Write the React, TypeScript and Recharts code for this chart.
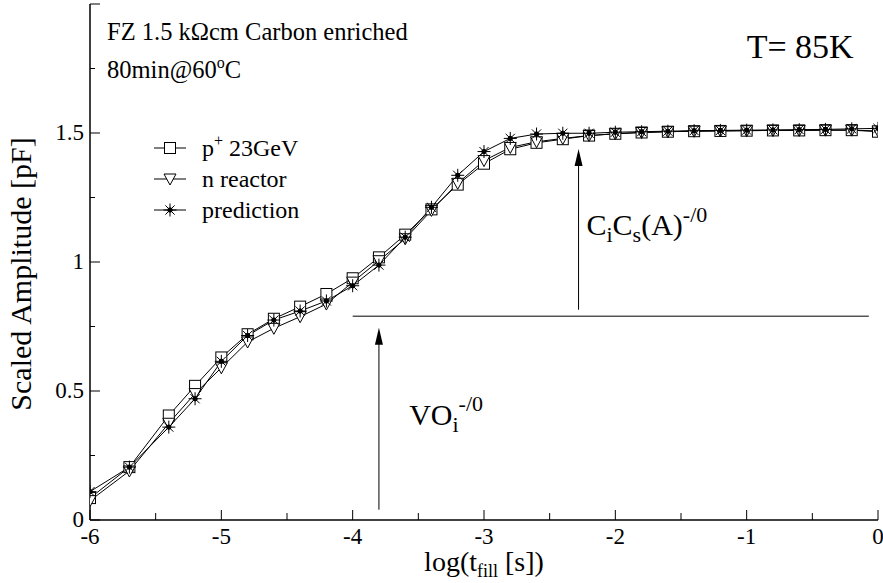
import React from 'react';
import { LineChart, Line, XAxis, YAxis, ReferenceLine, ReferenceDot, Legend } from 'recharts';

// log10 of filling time [s]
const logFill = [-6, -5.7, -5.4, -5.2, -5.0, -4.8, -4.6, -4.4, -4.2, -4.0, -3.8, -3.6, -3.4, -3.2, -3.0,
  -2.8, -2.6, -2.4, -2.2, -2.0, -1.8, -1.6, -1.4, -1.2, -1.0, -0.8, -0.6, -0.4, -0.2, 0];

// scaled amplitude [pF]
const proton23GeV = [0.085, 0.205, 0.405, 0.52, 0.63, 0.72, 0.78, 0.827, 0.876, 0.937, 1.018, 1.106, 1.204, 1.3, 1.381,
  1.437, 1.462, 1.476, 1.49, 1.497, 1.502, 1.505, 1.507, 1.508, 1.509, 1.51, 1.51, 1.511, 1.511, 1.505];
const nReactor = [0.075, 0.19, 0.375, 0.49, 0.59, 0.69, 0.743, 0.788, 0.837, 0.922, 1.005, 1.09, 1.2, 1.305, 1.393,
  1.444, 1.466, 1.479, 1.49, 1.497, 1.502, 1.505, 1.507, 1.508, 1.509, 1.51, 1.51, 1.511, 1.511, 1.508];
const prediction = [0.11, 0.205, 0.36, 0.47, 0.615, 0.715, 0.775, 0.81, 0.849, 0.908, 0.988, 1.096, 1.212, 1.336, 1.428,
  1.479, 1.496, 1.499, 1.499, 1.503, 1.505, 1.507, 1.509, 1.51, 1.511, 1.512, 1.513, 1.514, 1.516, 1.518];

const xTicks = [-6, -5.5, -5, -4.5, -4, -3.5, -3, -2.5, -2, -1.5, -1, -0.5, 0];
const yTicks = [0, 0.25, 0.5, 0.75, 1, 1.25, 1.5, 1.75, 2];
const xLabels = [-6, -5, -4, -3, -2, -1, 0];
const yLabels = [0, 0.5, 1, 1.5];

const FONT = '"Liberation Serif", "Times New Roman", serif';
const PLOT = { left: 90, right: 878, top: 4, bottom: 520 };

const rows = logFill.map((x, i) => ({ x, p: proton23GeV[i], n: nReactor[i], pred: prediction[i] }));

const Square = ({ cx, cy }: any) => (
  <rect x={cx - 5.5} y={cy - 5.5} width={11} height={11} fill="#fff" stroke="#000" strokeWidth={1} />
);
const TriDown = ({ cx, cy }: any) => (
  <path d={`M${cx - 6},${cy - 5} L${cx + 6},${cy - 5} L${cx},${cy + 6} Z`} fill="#fff" stroke="#000" strokeWidth={1} />
);
const Star = ({ cx, cy }: any) => {
  const r = 6.5, d = r * 0.7071;
  return (
    <g stroke="#000" strokeWidth={1}>
      <line x1={cx - r} y1={cy} x2={cx + r} y2={cy} />
      <line x1={cx} y1={cy - r} x2={cx} y2={cy + r} />
      <line x1={cx - d} y1={cy - d} x2={cx + d} y2={cy + d} />
      <line x1={cx - d} y1={cy + d} x2={cx + d} y2={cy - d} />
      <circle cx={cx} cy={cy} r={2.2} fill="#000" />
    </g>
  );
};

const BottomTick = ({ x, y, payload }: any) => {
  const major = xLabels.includes(payload.value);
  return (
    <g>
      <line x1={x} x2={x} y1={PLOT.bottom} y2={PLOT.bottom - (major ? 10 : 7)} stroke="#000" />
      {major && (
        <text x={x} y={y} dy="0.71em" textAnchor="middle" fontFamily={FONT} fontSize={23} fill="#000">
          {payload.value}
        </text>
      )}
    </g>
  );
};
const TopTick = ({ x, payload }: any) => {
  const major = xLabels.includes(payload.value);
  return <line x1={x} x2={x} y1={PLOT.top} y2={PLOT.top + (major ? 10 : 7)} stroke="#000" />;
};
const LeftTick = ({ x, y, payload }: any) => {
  const major = yLabels.includes(payload.value) || payload.value === 2;
  return (
    <g>
      <line x1={PLOT.left} x2={PLOT.left + (major ? 10 : 5)} y1={y} y2={y} stroke="#000" />
      {yLabels.includes(payload.value) && (
        <text x={x} y={y} dy="0.3em" textAnchor="end" fontFamily={FONT} fontSize={23} fill="#000">
          {payload.value}
        </text>
      )}
    </g>
  );
};
const RightTick = ({ y, payload }: any) => {
  const major = yLabels.includes(payload.value);
  return <line x1={PLOT.right} x2={PLOT.right - (major ? 10 : 5)} y1={y} y2={y} stroke="#000" />;
};

const legendItems = [
  { name: 'p', sup: '+', rest: ' 23GeV', Marker: Square },
  { name: 'n reactor', sup: '', rest: '', Marker: TriDown },
  { name: 'prediction', sup: '', rest: '', Marker: Star },
];

const LegendBox = () => (
  <svg width={200} height={110} style={{ display: 'block', overflow: 'visible' }}>
    {legendItems.map((it, i) => {
      const cy = 20 + i * 31;
      return (
        <g key={it.name}>
          <line x1={14} x2={46} y1={cy} y2={cy} stroke="#000" />
          <it.Marker cx={30} cy={cy} />
          <text x={62} y={cy + 8} fontFamily={FONT} fontSize={24} fill="#000">
            {it.name}
            {it.sup && <tspan dy={-10} fontSize={16}>{it.sup}</tspan>}
            {it.rest && <tspan dy={10}>{it.rest}</tspan>}
          </text>
        </g>
      );
    })}
  </svg>
);

const arrowHead = ({ cx, cy }: any) => (
  <path d={`M${cx},${cy} L${cx - 4},${cy + 17} L${cx + 4},${cy + 17} Z`} fill="#000" />
);

const textAt = (content: React.ReactNode, size: number) => ({ cx, cy }: any) => (
  <text x={cx} y={cy} fontFamily={FONT} fontSize={size} fill="#000">{content}</text>
);

export default function App() {
  return (
    <div style={{ position: 'absolute', left: 0, top: 0, background: '#fff' }}>
      <LineChart width={883} height={583} data={rows} margin={{ top: 4, right: 5, bottom: 0, left: 0 }}>
        <XAxis
          dataKey="x"
          type="number"
          domain={[-6, 0]}
          ticks={xTicks}
          height={63}
          tickSize={0}
          tickMargin={8}
          axisLine={{ stroke: '#000', strokeWidth: 1.5 }}
          tickLine={false}
          tick={<BottomTick />}
          interval={0}
          allowDataOverflow
          label={{
            content: ({ viewBox }: any) => (
              <text x={viewBox.x + viewBox.width / 2} y={viewBox.y + 51} textAnchor="middle" fontFamily={FONT} fontSize={28} fill="#000">
                log(t<tspan dy={6} fontSize={18}>fill</tspan><tspan dy={-6}> [s])</tspan>
              </text>
            ),
          }}
        />
        <XAxis
          xAxisId="top"
          orientation="top"
          dataKey="x"
          type="number"
          domain={[-6, 0]}
          ticks={xTicks}
          height={0}
          tickSize={0}
          axisLine={{ stroke: '#000', strokeWidth: 1.5 }}
          tickLine={false}
          tick={<TopTick />}
          interval={0}
          allowDataOverflow
        />
        <YAxis
          type="number"
          domain={[0, 2]}
          ticks={yTicks}
          width={90}
          tickSize={0}
          tickMargin={6}
          axisLine={{ stroke: '#000', strokeWidth: 1.5 }}
          tickLine={false}
          tick={<LeftTick />}
          interval={0}
          allowDataOverflow
          label={{
            content: ({ viewBox }: any) => {
              const cy = viewBox.y + viewBox.height / 2 + 12;
              return (
                <text x={31} y={cy} transform={`rotate(-90, 31, ${cy})`} textAnchor="middle" fontFamily={FONT} fontSize={30} fill="#000">
                  Scaled Amplitude [pF]
                </text>
              );
            },
          }}
        />
        <YAxis
          yAxisId="right"
          orientation="right"
          type="number"
          domain={[0, 2]}
          ticks={yTicks}
          width={0}
          tickSize={0}
          axisLine={{ stroke: '#000', strokeWidth: 1.5 }}
          tickLine={false}
          tick={<RightTick />}
          interval={0}
          allowDataOverflow
        />
        <Legend
          layout="vertical"
          align="center"
          verticalAlign="middle"
          wrapperStyle={{ left: 140, top: 128, width: 200 }}
          content={() => <LegendBox />}
        />

        <ReferenceLine segment={[{ x: -4, y: 0.79 }, { x: -0.07, y: 0.79 }]} stroke="#000" strokeWidth={1} />
        <ReferenceLine segment={[{ x: -3.8, y: 0.04 }, { x: -3.8, y: 0.72 }]} stroke="#000" strokeWidth={1} />
        <ReferenceDot x={-3.8} y={0.745} shape={arrowHead} ifOverflow="visible" />
        <ReferenceLine segment={[{ x: -2.28, y: 0.815 }, { x: -2.28, y: 1.41 }]} stroke="#000" strokeWidth={1} />
        <ReferenceDot x={-2.28} y={1.438} shape={arrowHead} ifOverflow="visible" />

        <ReferenceDot
          x={-3.57}
          y={0.368}
          ifOverflow="visible"
          shape={textAt(<>VO<tspan dy={7} fontSize={22}>i</tspan><tspan dy={-21} fontSize={22}>-/0</tspan></>, 30)}
        />
        <ReferenceDot
          x={-2.22}
          y={1.105}
          ifOverflow="visible"
          shape={textAt(<>C<tspan dy={7} fontSize={22}>i</tspan><tspan dy={-7}>C</tspan><tspan dy={7} fontSize={22}>s</tspan><tspan dy={-7}>(A)</tspan><tspan dy={-13} fontSize={22}>-/0</tspan></>, 30)}
        />
        <ReferenceDot
          x={-5.87}
          y={1.86}
          ifOverflow="visible"
          shape={textAt(<>FZ 1.5 kΩcm Carbon enriched</>, 24.5)}
        />
        <ReferenceDot
          x={-5.87}
          y={1.715}
          ifOverflow="visible"
          shape={textAt(<>80min@60<tspan dy={-10} fontSize={16}>o</tspan><tspan dy={10}>C</tspan></>, 24.5)}
        />
        <ReferenceDot
          x={-1.0}
          y={1.79}
          ifOverflow="visible"
          shape={textAt(<>T= 85K</>, 34)}
        />

        <Line dataKey="p" stroke="#000" strokeWidth={1} isAnimationActive={false} activeDot={false}
          dot={(props: any) => <Square key={`p${props.index}`} cx={props.cx} cy={props.cy} />} />
        <Line dataKey="n" stroke="#000" strokeWidth={1} isAnimationActive={false} activeDot={false}
          dot={(props: any) => <TriDown key={`n${props.index}`} cx={props.cx} cy={props.cy} />} />
        <Line dataKey="pred" stroke="#000" strokeWidth={1} isAnimationActive={false} activeDot={false}
          dot={(props: any) => <Star key={`s${props.index}`} cx={props.cx} cy={props.cy} />} />
      </LineChart>
    </div>
  );
}
